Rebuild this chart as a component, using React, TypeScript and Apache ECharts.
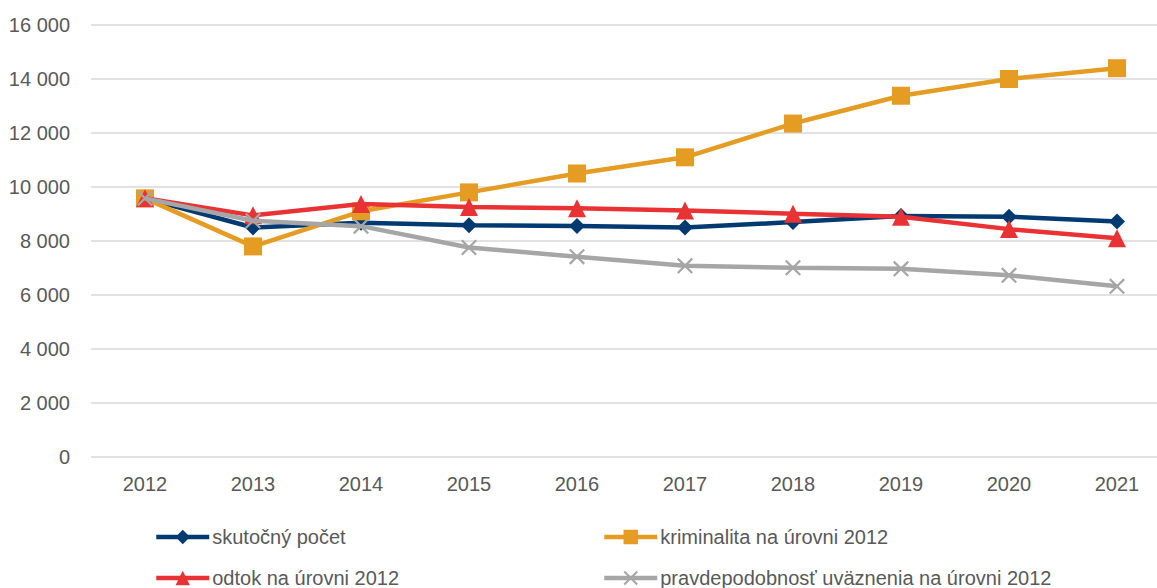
import React, { useEffect, useRef } from "react";
import * as echarts from "echarts";

const years = ["2012", "2013", "2014", "2015", "2016", "2017", "2018", "2019", "2020", "2021"];
const skutocny = [9580, 8500, 8680, 8580, 8560, 8500, 8700, 8930, 8900, 8720];
const kriminalita = [9580, 7800, 9100, 9800, 10500, 11100, 12350, 13380, 14000, 14400];
const odtok = [9580, 8950, 9370, 9260, 9210, 9130, 9010, 8900, 8440, 8100];
const pravdepodobnost = [9580, 8750, 8550, 7760, 7420, 7080, 7010, 6970, 6730, 6320];

const seriesNames = [
  "skutočný počet",
  "kriminalita na úrovni 2012",
  "odtok na úrovni 2012",
  "pravdepodobnosť uväznenia na úrovni 2012",
];
const colors = ["#003a70", "#e59c22", "#e83234", "#a6a6a6"];

const FONT = "'Liberation Sans', Arial, sans-serif";
const crossPath = "path://M0,1L1,0L10,9L9,10ZM9,0L10,1L1,10L0,9Z";

export default function App() {
  const ref = useRef<HTMLDivElement>(null);
  useEffect(() => {
    if (!ref.current) return;
    const chart = echarts.init(ref.current, null, { renderer: "svg" });
    const fmt = (v: number) => String(v).replace(/\B(?=(\d{3})+(?!\d))/g, " ");
    const legendPos = [
      { left: 154, top: 525 },
      { left: 602, top: 525 },
      { left: 154, top: 566 },
      { left: 602, top: 566 },
    ];
    const dataSets = [skutocny, kriminalita, odtok, pravdepodobnost];
    const symbols = ["diamond", "rect", "triangle", crossPath];
    const symbolSizes = [16, 18, 18, 16];
    chart.setOption({
      animation: false,
      backgroundColor: "#ffffff",
      grid: {
        left: 91,
        right: -14,
        top: 25,
        bottom: 131,
        containLabel: false,
        outerBoundsMode: "none",
      },
      xAxis: {
        type: "category",
        data: years,
        boundaryGap: true,
        axisLine: { show: false },
        axisTick: { show: false },
        axisLabel: { color: "#595959", fontSize: 20, fontFamily: FONT, margin: 17 },
      },
      yAxis: {
        type: "value",
        min: 0,
        max: 16000,
        interval: 2000,
        axisLine: { show: false },
        axisTick: { show: false },
        splitLine: { lineStyle: { color: "#d9d9d9", width: 1.5 } },
        axisLabel: {
          color: "#595959",
          fontSize: 20,
          fontFamily: FONT,
          margin: 21,
          formatter: fmt,
        },
      },
      legend: seriesNames.map((n, i) => ({
        data: [n],
        left: legendPos[i].left,
        top: legendPos[i].top,
        padding: 0,
        itemWidth: 53,
        itemHeight: 18,
        itemGap: 4,
        lineStyle: { width: 4.5 },
        textStyle: {
          color: "#595959",
          fontSize: 20,
          fontFamily: FONT,
          lineHeight: 24,
          padding: [0, 0, 0, -2],
        },
      })),
      series: seriesNames.map((n, i) => ({
        name: n,
        type: "line",
        data: dataSets[i],
        symbol: symbols[i],
        symbolSize: symbolSizes[i],
        color: colors[i],
        lineStyle: { width: 4.5, color: colors[i] },
        itemStyle: { color: colors[i] },
        z: i === 3 ? 5 : 2 + i,
      })),
    });
    return () => chart.dispose();
  }, []);
  return (
    <div
      ref={ref}
      style={{ position: "absolute", left: 0, top: 0, width: 1157, height: 588 }}
    />
  );
}
